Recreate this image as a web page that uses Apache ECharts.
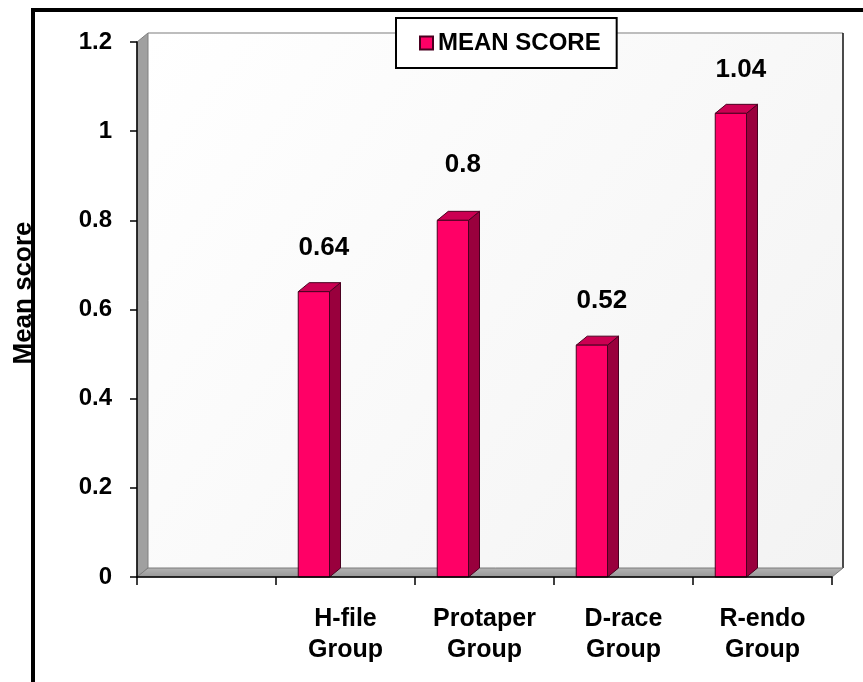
<!DOCTYPE html>
<html>
<head>
<meta charset="utf-8">
<script src="https://cdn.jsdelivr.net/npm/echarts@6/dist/echarts.min.js"></script>
<style>
  html, body { margin: 0; padding: 0; background: #ffffff; }
  #chart { width: 863px; height: 682px; }
</style>
</head>
<body>
<div id="chart"></div>
<script>
// Chart data
const categories = ['', 'H-file\nGroup', 'Protaper\nGroup', 'D-race\nGroup', 'R-endo\nGroup'];
const meanScores = [null, 0.64, 0.8, 0.52, 1.04];
const yTicks = [0, 0.2, 0.4, 0.6, 0.8, 1, 1.2];
const seriesName = 'MEAN SCORE';
const axisTitle = 'Mean score';

// Styling for the pseudo-3D look
const FONT = '"Liberation Sans", Arial, sans-serif';
const DX = 11, DY = -9;            // depth offset of walls and bar prisms
const BAR_FRONT = '#ff0066';
const BAR_SIDE = '#99003d';
const BAR_TOP = '#cc0052';
const BAR_EDGE = '#4a0020';
const labelLift = { 2: 12 };        // extra lift for a label that sits higher

const chart = echarts.init(document.getElementById('chart'), null, { renderer: 'canvas' });

// Back wall, left side wall and floor of the plot box
function renderFrame(params, api) {
  const cs = params.coordSys;
  const x0 = cs.x, x1 = cs.x + cs.width, yT = cs.y, yB = cs.y + cs.height;
  return {
    type: 'group',
    children: [
      {
        type: 'rect',
        shape: { x: x0 + DX, y: yT + DY, width: cs.width, height: cs.height },
        style: {
          fill: new echarts.graphic.LinearGradient(0, 0, 1, 1, [
            { offset: 0, color: '#ffffff' },
            { offset: 1, color: '#f3f3f3' }
          ])
        }
      },
      {
        type: 'line',
        shape: { x1: x0 + DX, y1: yT + DY, x2: x1 + DX, y2: yT + DY },
        style: { stroke: '#bdbdbd', lineWidth: 2 }
      },
      {
        type: 'line',
        shape: { x1: x1 + DX, y1: yT + DY, x2: x1 + DX, y2: yB + DY },
        style: { stroke: '#111111', lineWidth: 1.5 }
      },
      {
        type: 'polygon',
        shape: { points: [[x0, yT], [x0 + DX, yT + DY], [x0 + DX, yB + DY], [x0, yB]] },
        style: { fill: '#a0a0a0', stroke: '#808080', lineWidth: 1 }
      },
      {
        type: 'polygon',
        shape: { points: [[x0, yB], [x0 + DX, yB + DY], [x1 + DX, yB + DY], [x1, yB]] },
        style: {
          fill: new echarts.graphic.LinearGradient(0, 0, 0, 1, [
            { offset: 0, color: '#b4b4b4' },
            { offset: 1, color: '#969696' }
          ]),
          stroke: '#7c7c7c',
          lineWidth: 1
        }
      }
    ]
  };
}

// Each bar as a prism: front face, side face, top face and its value label
function renderBar(params, api) {
  const i = api.value(0);
  const v = api.value(1);
  const top = api.coord([i, v]);
  const base = api.coord([i, 0]);
  const band = api.size([1, 0])[0];
  const xl = top[0] - band * 0.34;
  const w = band * 0.225;
  const xr = xl + w;
  const lift = labelLift[i] || 0;
  return {
    type: 'group',
    children: [
      {
        type: 'polygon',
        shape: { points: [[xr, top[1]], [xr + DX, top[1] + DY], [xr + DX, base[1] + DY], [xr, base[1]]] },
        style: { fill: BAR_SIDE, stroke: BAR_EDGE, lineWidth: 1 }
      },
      {
        type: 'polygon',
        shape: { points: [[xl, top[1]], [xl + DX, top[1] + DY], [xr + DX, top[1] + DY], [xr, top[1]]] },
        style: { fill: BAR_TOP, stroke: BAR_EDGE, lineWidth: 1 }
      },
      {
        type: 'rect',
        shape: { x: xl, y: top[1], width: w, height: base[1] - top[1] },
        style: { fill: BAR_FRONT, stroke: BAR_EDGE, lineWidth: 1 }
      },
      {
        type: 'text',
        x: xl + w / 2 + 10,
        y: top[1] - 44 - lift,
        style: {
          text: String(v),
          fill: '#000000',
          font: 'bold 26px ' + FONT,
          align: 'center',
          verticalAlign: 'middle'
        }
      }
    ]
  };
}

const barData = meanScores
  .map((v, i) => [i, v])
  .filter(d => d[1] !== null);

const option = {
  animation: false,
  backgroundColor: '#ffffff',
  grid: { left: 137, right: 31, top: 42, bottom: 105, containLabel: false },
  legend: {
    data: [seriesName],
    left: 396,
    top: 18,
    padding: [13, 16, 13, 23],
    borderColor: '#000000',
    borderWidth: 2,
    backgroundColor: '#ffffff',
    icon: 'rect',
    itemWidth: 13,
    itemHeight: 13,
    textStyle: { color: '#000000', fontFamily: FONT, fontWeight: 'bold', fontSize: 24 }
  },
  xAxis: {
    type: 'category',
    data: categories,
    boundaryGap: true,
    z: 5,
    axisLine: { show: true, lineStyle: { color: '#000000', width: 1.5 } },
    axisTick: { show: true, length: 8, lineStyle: { color: '#000000', width: 1.5 } },
    axisLabel: {
      interval: 0,
      margin: 27,
      color: '#000000',
      fontFamily: FONT,
      fontWeight: 'bold',
      fontSize: 25,
      lineHeight: 31
    },
    splitLine: { show: false }
  },
  yAxis: {
    type: 'value',
    min: yTicks[0],
    max: yTicks[yTicks.length - 1],
    interval: yTicks[1] - yTicks[0],
    z: 5,
    axisLine: { show: true, lineStyle: { color: '#000000', width: 1.5 } },
    axisTick: { show: true, length: 7, lineStyle: { color: '#000000', width: 1.5 } },
    axisLabel: {
      margin: 25,
      color: '#000000',
      fontFamily: FONT,
      fontWeight: 'bold',
      fontSize: 24,
      formatter: v => String(Math.round(v * 10) / 10)
    },
    splitLine: { show: false }
  },
  series: [
    {
      type: 'custom',
      name: 'frame',
      silent: true,
      z: 1,
      renderItem: renderFrame,
      data: [[0, 0]]
    },
    {
      type: 'custom',
      name: seriesName,
      z: 3,
      itemStyle: { color: BAR_FRONT, borderColor: BAR_EDGE, borderWidth: 1 },
      encode: { x: 0, y: 1 },
      renderItem: renderBar,
      data: barData
    }
  ],
  graphic: [
    {
      type: 'text',
      x: 24,
      y: 293,
      rotation: Math.PI / 2,
      z: 10,
      style: {
        text: axisTitle,
        fill: '#000000',
        font: 'bold 26px ' + FONT,
        align: 'center',
        verticalAlign: 'middle'
      }
    },
    {
      type: 'rect',
      z: 20,
      shape: { x: 33, y: 10, width: 900, height: 800 },
      style: { fill: 'none', stroke: '#000000', lineWidth: 4 }
    }
  ]
};

chart.setOption(option);
</script>
</body>
</html>
